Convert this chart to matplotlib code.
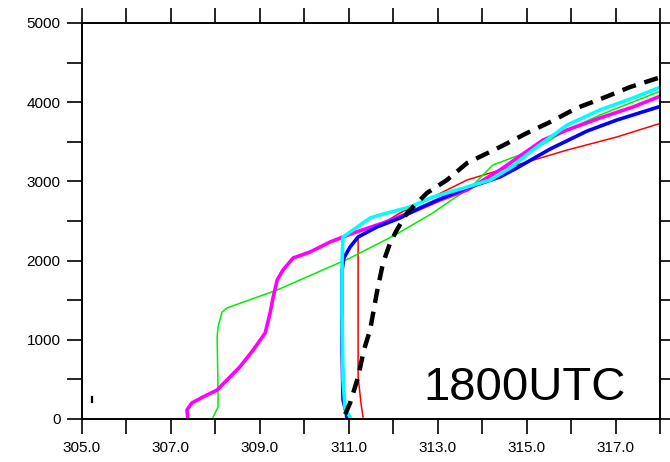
import matplotlib
matplotlib.use('Agg')
import matplotlib.pyplot as plt
from matplotlib.ticker import MultipleLocator, FixedLocator, NullFormatter

# potential temperature (K) vs height (m)
black_x = [310.92, 311.03, 311.21, 311.34, 311.48, 311.63, 311.77, 311.93, 312.08, 312.31,
           312.76, 313.21, 313.66, 314.40, 315.01, 315.53, 316.13, 316.72, 317.33, 317.96]
black_y = [60, 202, 530, 871, 1124, 1591, 1970, 2222, 2386, 2601,
           2854, 3018, 3232, 3434, 3611, 3750, 3927, 4053, 4192, 4306]

blue_x = [310.96, 310.94, 310.87, 310.85, 310.85, 310.85, 310.89, 311.03, 311.21, 311.63,
          312.15, 312.60, 313.05, 313.66, 314.40, 314.78, 315.53, 316.36, 317.03, 317.96]
blue_y = [0, 90, 240, 871, 1503, 1881, 2033, 2172, 2298, 2424,
          2538, 2664, 2778, 2917, 3056, 3169, 3409, 3636, 3775, 3939]

cyan_x = [311.03, 310.92, 310.87, 310.85, 310.85, 310.87, 311.03, 311.48, 311.70, 312.38,
          312.89, 313.66, 314.18, 314.63, 315.14, 315.91, 316.65, 317.39, 317.96]
cyan_y = [25, 114, 492, 1338, 2008, 2298, 2361, 2538, 2576, 2677,
          2803, 2929, 3018, 3169, 3396, 3712, 3902, 4053, 4179]

magenta_x = [307.38, 307.36, 307.47, 307.72, 308.04, 308.26, 308.55, 308.85, 309.12, 309.23,
             309.30, 309.39, 309.52, 309.75, 310.13, 310.58, 310.87, 311.10, 311.77, 312.53,
             313.05, 313.66, 314.40, 315.37, 315.91, 316.65, 317.39, 317.96]
magenta_y = [13, 114, 202, 278, 366, 492, 657, 871, 1086, 1338,
             1540, 1755, 1881, 2033, 2109, 2235, 2298, 2348, 2475, 2639,
             2765, 2891, 3144, 3523, 3649, 3801, 3939, 4066]

green_x = [307.95, 308.06, 308.06, 308.04, 308.06, 308.15, 308.26, 309.39, 311.03, 312.04,
           312.89, 313.21, 313.73, 314.24, 315.14, 315.91, 316.65, 317.39, 317.96]
green_y = [25, 152, 328, 1035, 1162, 1351, 1402, 1629, 2033, 2323,
           2601, 2727, 2917, 3207, 3396, 3649, 3838, 4003, 4129]

red_x = [311.32, 311.28, 311.25, 311.21, 311.21, 311.63, 312.15, 312.89, 313.66, 314.63,
         315.91, 317.03, 317.96]
red_y = [25, 177, 328, 530, 2298, 2424, 2601, 2803, 3018, 3182,
         3396, 3561, 3725]

stray_x = [305.23, 305.23]
stray_y = [215, 278]

x_ticks = [305, 307, 309, 311, 313, 315, 317]
x_labels = ['305.0', '307.0', '309.0', '311.0', '313.0', '315.0', '317.0']
y_ticks = [0, 1000, 2000, 3000, 4000, 5000]


def main():
    plt.rcParams['font.family'] = ['Liberation Sans', 'DejaVu Sans']
    fig = plt.figure(figsize=(6.7, 4.62), dpi=100)
    ax = fig.add_axes([82 / 670, 43 / 462, 578 / 670, 396 / 462])

    ax.plot(red_x, red_y, color='#ff0000', lw=1.1)
    ax.plot(green_x, green_y, color='#00ee00', lw=1.1)
    ax.plot(magenta_x, magenta_y, color='#ff00ff', lw=2.6)
    ax.plot(blue_x, blue_y, color='#0000ff', lw=2.6)
    ax.plot(cyan_x, cyan_y, color='#00ffff', lw=2.6)
    ax.plot(black_x, black_y, color='black', lw=3.2, ls=(0, (3.2, 2.0)))
    ax.plot(stray_x, stray_y, color='black', lw=1.6)

    ax.text(314.95, 240, '1800UTC', fontsize=34, ha='center', va='baseline')

    ax.set_xlim(305, 318)
    ax.set_ylim(0, 5000)
    ax.xaxis.set_major_locator(FixedLocator(x_ticks))
    ax.set_xticklabels(x_labels)
    ax.xaxis.set_minor_locator(MultipleLocator(1))
    ax.yaxis.set_major_locator(FixedLocator(y_ticks))
    ax.yaxis.set_minor_locator(MultipleLocator(500))
    ax.yaxis.set_minor_formatter(NullFormatter())
    ax.xaxis.set_minor_formatter(NullFormatter())

    ax.tick_params(which='both', direction='out', length=10.5, width=1.2,
                   top=True, right=True, labelsize=11, colors='black')
    ax.tick_params(axis='x', pad=5)
    ax.tick_params(axis='y', pad=5)
    for s in ax.spines.values():
        s.set_linewidth(1.4)

    fig.savefig('out.png', dpi=100)


if __name__ == '__main__':
    main()
